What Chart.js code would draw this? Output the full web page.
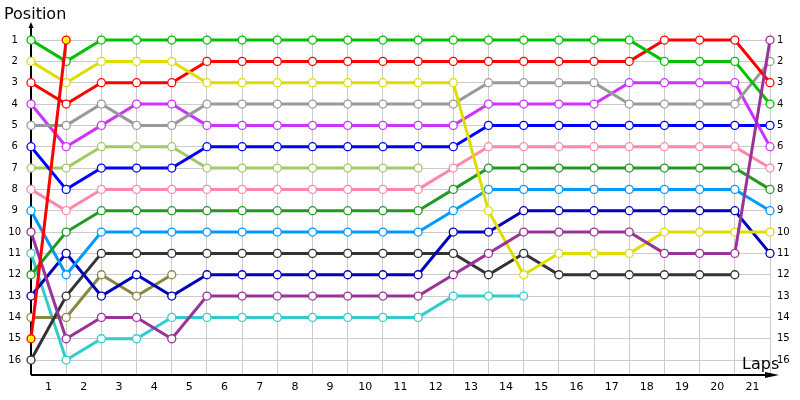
<!DOCTYPE html>
<html>
<head>
<meta charset="utf-8">
<script src="https://cdn.jsdelivr.net/npm/chart.js@4"></script>
<style>
  html, body { margin: 0; padding: 0; background: #fff; }
  #wrap { width: 800px; height: 400px; }
</style>
</head>
<body>
<div id="wrap"><canvas id="lapChart"></canvas></div>
<script>
// Lap chart — position of each car at the start (index 0) and after each lap
const lapLabels = ['1','2','3','4','5','6','7','8','9','10','11','12','13','14','15','16','17','18','19','20','21'];
const positionTicks = [1,2,3,4,5,6,7,8,9,10,11,12,13,14,15,16];

const redShort   = [15,1];
const purple     = [10,15,14,14,15,13,13,13,13,13,13,13,12,11,10,10,10,10,11,11,11,1];
const yellow     = [2,3,2,2,2,3,3,3,3,3,3,3,3,9,12,11,11,11,10,10,10,10];
const green      = [1,2,1,1,1,1,1,1,1,1,1,1,1,1,1,1,1,1,2,2,2,4];
const red        = [3,4,3,3,3,2,2,2,2,2,2,2,2,2,2,2,2,2,1,1,1,3];
const grey       = [5,5,4,5,5,4,4,4,4,4,4,4,4,3,3,3,3,4,4,4,4,2];
const violet     = [4,6,5,4,4,5,5,5,5,5,5,5,5,4,4,4,4,3,3,3,3,6];
const blue       = [6,8,7,7,7,6,6,6,6,6,6,6,6,5,5,5,5,5,5,5,5,5];
const lightGreen = [7,7,6,6,6,7,7,7,7,7,7,7];
const pink       = [8,9,8,8,8,8,8,8,8,8,8,8,7,6,6,6,6,6,6,6,6,7];
const darkGreen  = [12,10,9,9,9,9,9,9,9,9,9,9,8,7,7,7,7,7,7,7,7,8];
const skyBlue    = [9,12,10,10,10,10,10,10,10,10,10,10,9,8,8,8,8,8,8,8,8,9];
const navy       = [13,11,13,12,13,12,12,12,12,12,12,12,10,10,9,9,9,9,9,9,9,11];
const charcoal   = [16,13,11,11,11,11,11,11,11,11,11,11,11,12,11,12,12,12,12,12,12];
const olive      = [14,14,12,13,12];
const cyan       = [11,16,15,15,14,14,14,14,14,14,14,14,13,13,13];

// first dataset is drawn on top
const series = [
    { data: redShort,   color: '#ff0000', fill: '#ffff00' },
    { data: purple,     color: '#993399' },
    { data: yellow,     color: '#dddd00' },
    { data: green,      color: '#00c000' },
    { data: red,        color: '#ff0000' },
    { data: grey,       color: '#999999' },
    { data: violet,     color: '#cc33ff' },
    { data: blue,       color: '#0000ff' },
    { data: lightGreen, color: '#a3c866' },
    { data: pink,       color: '#ff88aa' },
    { data: darkGreen,  color: '#229922' },
    { data: skyBlue,    color: '#0099ff' },
    { data: navy,       color: '#0000bb' },
    { data: charcoal,   color: '#333333' },
    { data: olive,      color: '#888844' },
    { data: cyan,       color: '#33cccc' },
];

const FONT = 'DejaVu Sans';

// axis lines with arrow heads + axis captions
const axesPlugin = {
    id: 'axesArrows',
    beforeDatasetsDraw(chart) {
        const { ctx, chartArea: { left, bottom } } = chart;
        ctx.save();
        ctx.strokeStyle = '#000';
        ctx.fillStyle = '#000';
        ctx.lineWidth = 2;
        ctx.beginPath();
        ctx.moveTo(left, bottom);
        ctx.lineTo(left, 25);
        ctx.moveTo(left, bottom);
        ctx.lineTo(770, bottom);
        ctx.stroke();
        // top arrow (small)
        ctx.beginPath();
        ctx.moveTo(left, 22);
        ctx.lineTo(left - 2.5, 28);
        ctx.lineTo(left + 2.5, 28);
        ctx.closePath();
        ctx.fill();
        // right arrow
        ctx.beginPath();
        ctx.moveTo(779, bottom);
        ctx.lineTo(765, bottom - 3);
        ctx.lineTo(765, bottom + 3);
        ctx.closePath();
        ctx.fill();
        ctx.restore();
    },
    afterDraw(chart) {
        const { ctx } = chart;
        ctx.save();
        ctx.fillStyle = '#000';
        ctx.font = '16px "' + FONT + '"';
        ctx.textBaseline = 'middle';
        ctx.textAlign = 'left';
        ctx.fillText('Position', 4, 15);
        ctx.fillText('Laps', 742, 365);
        ctx.restore();
    }
};

const yTicks = scale => { scale.ticks = positionTicks.map(v => ({ value: v })); };

new Chart(document.getElementById('lapChart'), {
    type: 'line',
    data: {
        datasets: series.map(s => ({
            data: s.data.map((p, i) => ({ x: i, y: p })),
            borderColor: s.color,
            borderWidth: 3,
            pointRadius: 4,
            pointBorderWidth: 1.3,
            pointBorderColor: s.color,
            pointBackgroundColor: s.fill || '#ffffff',
            tension: 0,
            clip: false,
        }))
    },
    options: {
        responsive: true, maintainAspectRatio: false,
        animation: false,
        layout: { padding: { top: 33, left: 0, right: 0, bottom: 0 } },
        plugins: { legend: { display: false }, tooltip: { enabled: false } },
        scales: {
            x: {
                type: 'linear', min: 0, max: lapLabels.length,
                afterBuildTicks: scale => { scale.ticks = [{ value: 0 }, ...lapLabels.map((l, i) => ({ value: i + 1 }))]; },
                ticks: { display: false },
                grid: { color: '#cccccc', drawTicks: false },
                border: { display: false },
                afterFit: scale => { scale.height = 0; }
            },
            x2: {
                type: 'linear', position: 'bottom', min: 0, max: lapLabels.length,
                afterBuildTicks: scale => { scale.ticks = lapLabels.map((l, i) => ({ value: i + 0.5 })); },
                ticks: {
                    color: '#000', font: { family: FONT, size: 11 }, padding: 6,
                    maxRotation: 0, autoSkip: false,
                    callback: v => lapLabels[Math.floor(v)]
                },
                grid: { display: false, drawTicks: false },
                border: { display: false },
                afterFit: scale => { scale.height = 25; }
            },
            y: {
                type: 'linear', reverse: true, min: 0.67, max: 16.7,
                afterBuildTicks: yTicks,
                ticks: { color: '#000', font: { family: FONT, size: 10 }, crossAlign: 'center', padding: 10 },
                grid: { color: '#cccccc', drawTicks: false },
                border: { display: false },
                afterFit: scale => { scale.width = 31; }
            },
            y2: {
                type: 'linear', position: 'right', reverse: true, min: 0.67, max: 16.7,
                afterBuildTicks: yTicks,
                ticks: { color: '#000', font: { family: FONT, size: 10 }, crossAlign: 'near', padding: 7 },
                grid: { display: false, drawTicks: false },
                border: { display: false },
                afterFit: scale => { scale.width = 30; }
            }
        }
    },
    plugins: [axesPlugin]
});
</script>
</body>
</html>
